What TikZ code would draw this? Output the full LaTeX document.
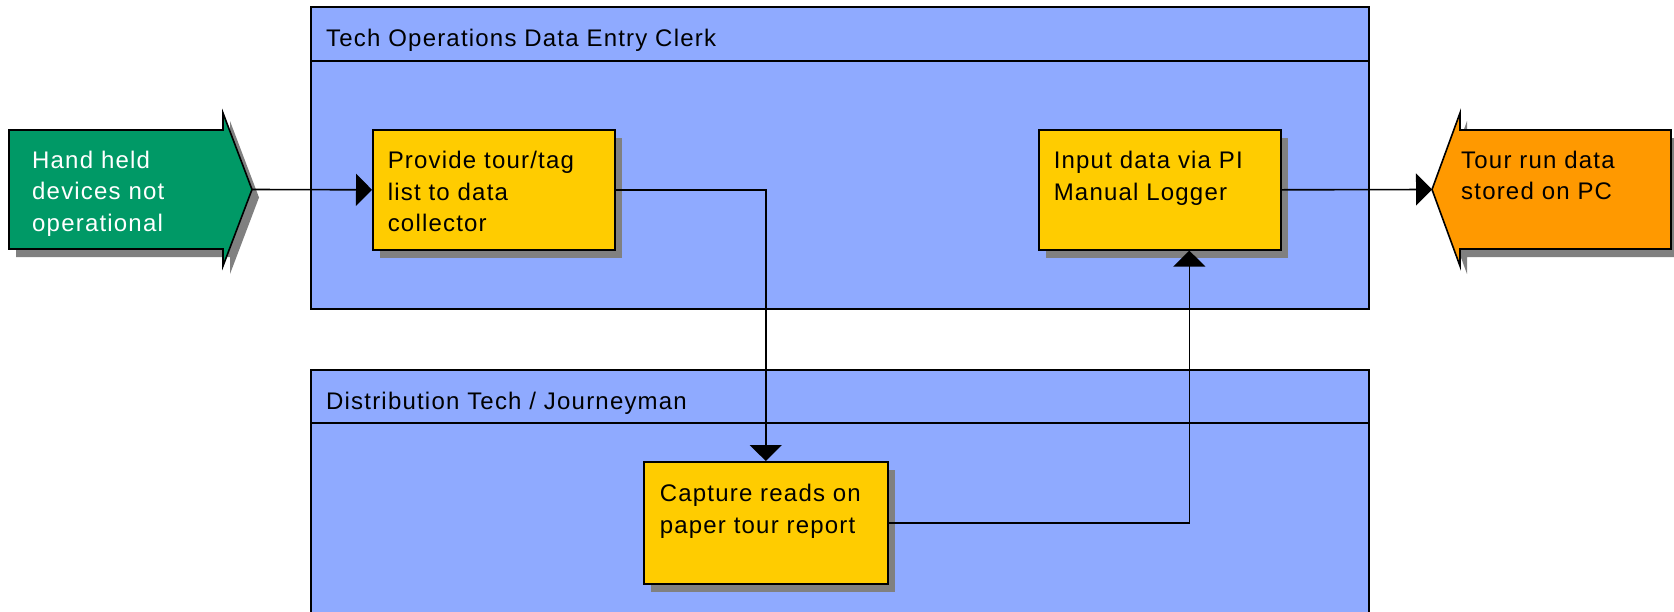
\documentclass[tikz,border=0pt]{standalone}
\usepackage{fontspec}
\setmainfont[LetterSpace=5]{Liberation Sans}
\usetikzlibrary{arrows.meta,shadows,calc}
\definecolor{laneblue}{RGB}{143,170,255}
\definecolor{taskyellow}{RGB}{255,204,0}
\definecolor{hgreen}{RGB}{0,153,102}
\definecolor{porange}{RGB}{255,153,0}
\definecolor{shadowgray}{RGB}{128,128,128}
\newcommand\tasktext[1]{\parbox[t][82pt][t]{212pt}{\raggedright\rule{0pt}{20pt}#1}}
\newcommand\freetext[1]{\parbox[t]{200pt}{\raggedright\rule{0pt}{20pt}#1}}
\begin{document}
\begin{tikzpicture}[x=1pt,y=-1pt,
  every node/.style={font=\fontsize{24pt}{31.5pt}\selectfont},
  task/.style={draw=black, line width=1.6pt, fill=taskyellow, inner xsep=15pt, inner ysep=19pt,
    anchor=north west, drop shadow={shadow xshift=7pt,shadow yshift=-8pt,fill=shadowgray,opacity=1}},
  lane/.style={draw=black, line width=1.4pt, fill=laneblue},
  conn/.style={draw=black, line width=1.6pt, -{Triangle[length=16pt,width=32pt]}},
  title/.style={anchor=base west, inner sep=0pt},
  plain/.style={anchor=north west, inner sep=0pt}]
\clip (0,0) rectangle (1674,611);
\fill[white] (0,0) rectangle (1674,611);
% lanes
\filldraw[lane] (311,7) rectangle (1369,309);
\draw[line width=1.4pt] (311,61) -- (1369,61);
\node[title] (lanetitle1) at (326,46) {Tech Operations Data Entry Clerk};
\filldraw[lane] (311,370) rectangle (1369,640);
\draw[line width=1.4pt] (311,423) -- (1369,423);
\node[title] (lanetitle2) at (326,409) {Distribution Tech / Journeyman};
% start event (green arrow)
\fill[shadowgray] (16,138) -- (230,138) -- (230,121) -- (259,197.5) -- (230,274) -- (230,257) -- (16,257) -- cycle;
\filldraw[fill=hgreen, line width=1.6pt] (9,130) -- (223,130) -- (223,113) -- (252,189.5) -- (223,266) -- (223,249) -- (9,249) -- cycle;
\coordinate (hhtip) at (252,189.5);
\node[plain, text=white] (hhtext) at (32,148) {\freetext{Hand held\\devices not\\operational}};
% end event (orange arrow)
\fill[shadowgray] (1439,197.5) -- (1467,121) -- (1467,138) -- (1680,138) -- (1680,257) -- (1467,257) -- (1467,274) -- cycle;
\filldraw[fill=porange, line width=1.6pt] (1432,189.5) -- (1460,113) -- (1460,130) -- (1671,130) -- (1671,249) -- (1460,249) -- (1460,266) -- cycle;
\coordinate (pctip) at (1432,189.5);
\node[plain] (pctext) at (1461,148) {\freetext{Tour run data\\stored on PC}};
% tasks
\node[task] (b1) at (372,129) {\tasktext{Provide tour/tag\\list to data\\collector}};
\node[task] (b2) at (1038,129) {\tasktext{Input data via PI\\Manual Logger}};
\node[task, inner xsep=16pt, inner ysep=20pt] (b3) at (643,461) {\tasktext{Capture reads on\\paper tour report}};
% connectors
\draw[conn] (hhtip) -- (b1.west);
\draw[conn] (b1.east) -| (b3.north);
\draw[conn] (b3.east) -| ([xshift=29.5pt]b2.south);
\draw[conn] (b2.east) -- (pctip);
\end{tikzpicture}
\end{document}
